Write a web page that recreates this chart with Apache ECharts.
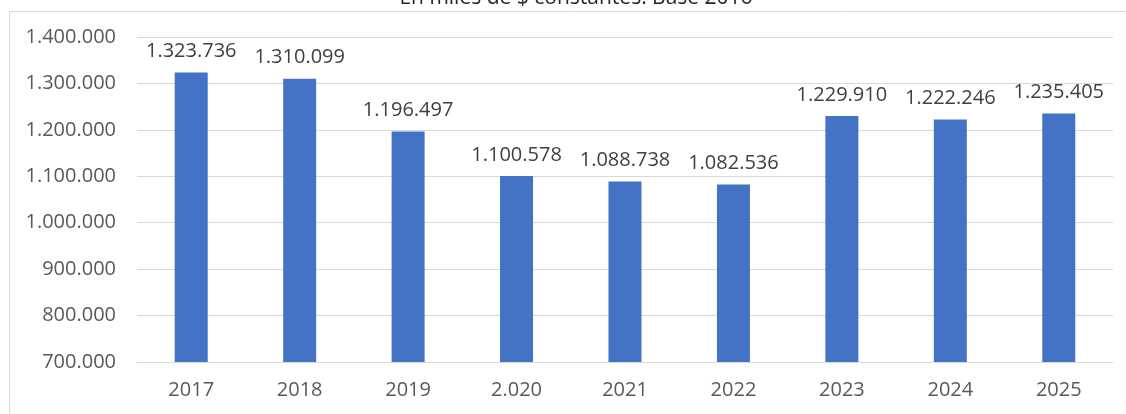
<!DOCTYPE html>
<html>
<head>
<meta charset="utf-8">
<script src="https://cdn.jsdelivr.net/npm/echarts@6/dist/echarts.min.js"></script>
<style>
html,body{margin:0;padding:0;background:#fff;}
#c{width:1126px;height:414px;}
</style>
</head>
<body>
<div id="c"></div>
<script>
const titleText = 'En miles de $ constantes. Base 2016';
const categories = ['2017','2018','2019','2.020','2021','2022','2023','2024','2025'];
const values = [1323736, 1310099, 1196497, 1100578, 1088738, 1082536, 1229910, 1222246, 1235405];
const yTicks = {min: 700000, max: 1400000, interval: 100000};

function fmt(v){
  return String(Math.round(v)).replace(/\B(?=(\d{3})+(?!\d))/g, '.');
}

const chart = echarts.init(document.getElementById('c'), null, {renderer:'canvas'});
chart.setOption({
  animation:false,
  backgroundColor:'#fff',
  textStyle:{fontFamily:'Open Sans'},
  graphic:[
    {type:'rect', shape:{x:9.5,y:11.5,width:1130,height:420}, style:{fill:'none',stroke:'#d9d9d9',lineWidth:1}, z:-1},
    {type:'text', x:576, y:-2, style:{text:titleText, fill:'#262626', font:'21px "Open Sans"', textAlign:'center', textVerticalAlign:'middle'}}
  ],
  grid:{left:137, right:13, top:37, bottom:52, containLabel:false},
  xAxis:{
    type:'category', data:categories,
    axisLine:{show:true, lineStyle:{color:'#d9d9d9', width:1}},
    axisTick:{show:false},
    axisLabel:{color:'#595959', fontSize:20, margin:18, fontFamily:'Open Sans'}
  },
  yAxis:{
    type:'value', min:yTicks.min, max:yTicks.max, interval:yTicks.interval,
    axisLine:{show:false}, axisTick:{show:false},
    splitLine:{lineStyle:{color:'#d9d9d9', width:1}},
    axisLabel:{color:'#595959', fontSize:20, margin:21, fontFamily:'Open Sans', formatter:fmt}
  },
  series:[{
    type:'bar', data:values, barWidth:33,
    itemStyle:{color:'#4472c4'},
    label:{show:true, position:'top', distance:11, color:'#404040', fontSize:20, fontFamily:'Open Sans', formatter:p=>fmt(p.value)}
  }]
});
</script>
</body>
</html>
